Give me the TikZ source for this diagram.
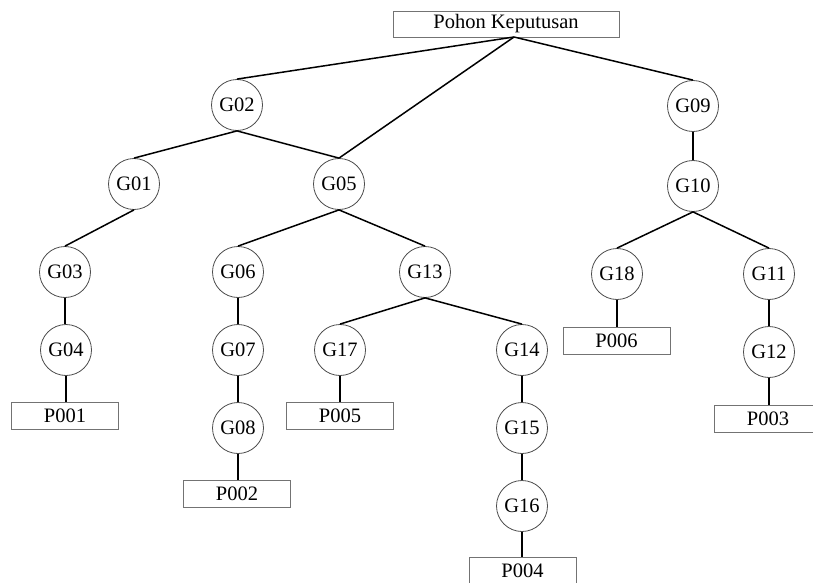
\documentclass[tikz,border=0pt]{standalone}
\usepackage{fontspec}
\setmainfont{Liberation Serif}
\begin{document}
\begin{tikzpicture}[x=1pt,y=-1pt,
  gnode/.style={circle,draw=black!70,line width=0.8pt,minimum size=51pt,inner sep=0pt,font=\fontsize{20.5}{21}\selectfont},
  pbox/.style={rectangle,draw=black!55,line width=0.8pt,minimum width=107pt,minimum height=27pt,inner sep=0pt,font=\fontsize{20.5}{21}\selectfont},
  conn/.style={line width=1.5pt,black}]
\useasboundingbox (0,0) rectangle (813,583);
\node[pbox,minimum width=226pt,minimum height=26pt] (root) at (506,24) {Pohon Keputusan};
\coordinate (rootc) at (514,37);
\node[gnode] (G02) at (237,105) {G02};
\node[gnode] (G09) at (693,106) {G09};
\node[gnode] (G01) at (134,184) {G01};
\node[gnode] (G05) at (339,184) {G05};
\node[gnode] (G10) at (693,186) {G10};
\node[gnode] (G03) at (65,272) {G03};
\node[gnode] (G06) at (238,272) {G06};
\node[gnode] (G13) at (425,272) {G13};
\node[gnode] (G18) at (617,274) {G18};
\node[gnode] (G11) at (769,274) {G11};
\node[gnode] (G04) at (66,350) {G04};
\node[gnode] (G07) at (238,350) {G07};
\node[gnode] (G17) at (340,350) {G17};
\node[gnode] (G14) at (522,350) {G14};
\node[gnode] (G12) at (769,352) {G12};
\node[gnode] (G08) at (238,428) {G08};
\node[gnode] (G15) at (522,428) {G15};
\node[gnode] (G16) at (522,506) {G16};
\node[pbox] (P001) at (65,415.5) {P001};
\node[pbox] (P002) at (237,493.5) {P002};
\node[pbox] (P005) at (340,415.5) {P005};
\node[pbox] (P006) at (616.5,340.5) {P006};
\node[pbox] (P003) at (768,418.5) {P003};
\node[pbox] (P004) at (522.5,570.5) {P004};
\draw[conn] (rootc) -- (G02.north);
\draw[conn] (rootc) -- (G05.north);
\draw[conn] (rootc) -- (G09.north);
\draw[conn] (G02.south) -- (G01.north);
\draw[conn] (G02.south) -- (G05.north);
\draw[conn] (G01.south) -- (G03.north);
\draw[conn] (G03.south) -- (G03.south |- G04.north);
\draw[conn] (G04.south) -- (G04.south |- P001.north);
\draw[conn] (G05.south) -- (G06.north);
\draw[conn] (G05.south) -- (G13.north);
\draw[conn] (G06.south) -- (G07.north);
\draw[conn] (G07.south) -- (G08.north);
\draw[conn] (G08.south) -- (G08.south |- P002.north);
\draw[conn] (G13.south) -- (G17.north);
\draw[conn] (G13.south) -- (G14.north);
\draw[conn] (G17.south) -- (G17.south |- P005.north);
\draw[conn] (G14.south) -- (G15.north);
\draw[conn] (G15.south) -- (G16.north);
\draw[conn] (G16.south) -- (G16.south |- P004.north);
\draw[conn] (G09.south) -- (G10.north);
\draw[conn] (G10.south) -- (G18.north);
\draw[conn] (G10.south) -- (G11.north);
\draw[conn] (G18.south) -- (G18.south |- P006.north);
\draw[conn] (G11.south) -- (G12.north);
\draw[conn] (G12.south) -- (G12.south |- P003.north);
\end{tikzpicture}
\end{document}
